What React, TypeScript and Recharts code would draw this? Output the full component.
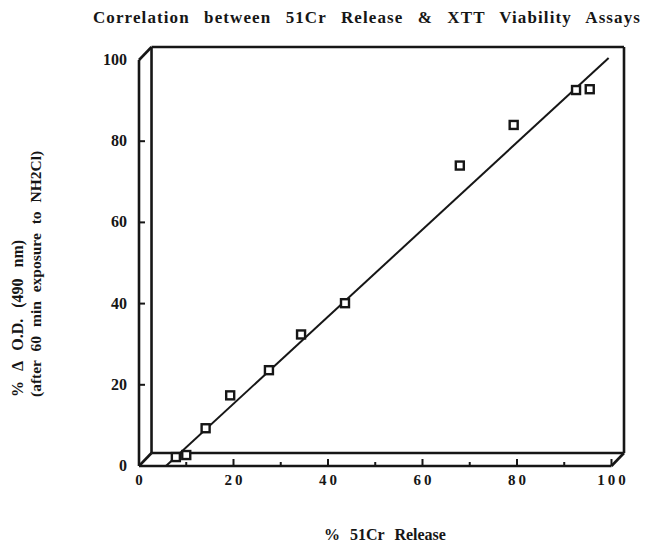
import { ScatterChart, Scatter, XAxis, YAxis, ReferenceLine } from "recharts";

// % 51Cr release (x) vs % change in O.D. at 490 nm (y)
const releasePct = [7.8, 10.0, 14.1, 19.3, 27.5, 34.3, 43.6, 67.9, 79.3, 92.5, 95.4];
const odChangePct = [2.2, 2.7, 9.3, 17.4, 23.6, 32.4, 40.1, 74.0, 84.0, 92.6, 92.8];

// least-squares line end points
const fitRelease = [5.7, 99.4];
const fitOd = [0, 100.5];

const xTicks = [0, 10, 20, 30, 40, 50, 60, 70, 80, 90, 100];
const yTicks = [0, 20, 40, 60, 80, 100];

const DX = 2.65; // depth of the back panel, in axis units
const DY = 3.2;
const INK = "#161616";
const SERIF = '"Liberation Serif", "DejaVu Serif", serif';

const points = releasePct.map((x, i) => ({ x, y: odChangePct[i] }));
const fitPoints = fitRelease.map((x, i) => ({ x, y: fitOd[i] }));

function Square(props: any) {
  const { cx, cy } = props;
  return (
    <rect x={cx - 4} y={cy - 4} width={8} height={8} fill="#fff" stroke={INK} strokeWidth={2.4} />
  );
}

function XTick({ x, y, payload }: any) {
  const v = payload.value;
  const major = v % 20 === 0;
  return (
    <g>
      {v > 0 && (
        <line x1={x} x2={x} y1={y} y2={y - (major ? 7 : 4)} stroke={INK} strokeWidth={2} />
      )}
      {major && (
        <text
          x={x + 1.5}
          y={y + 19}
          textAnchor="middle"
          fontFamily={SERIF}
          fontWeight="bold"
          fontSize={15}
          letterSpacing={3}
          fill={INK}
        >
          {v}
        </text>
      )}
    </g>
  );
}

function YTick({ x, y, payload }: any) {
  const v = payload.value;
  return (
    <g>
      {v > 0 && v < 100 && (
        <line x1={x} x2={x + 6} y1={y} y2={y} stroke={INK} strokeWidth={2} />
      )}
      <text
        x={x - 12}
        y={y + 5}
        textAnchor="end"
        fontFamily={SERIF}
        fontWeight="bold"
        fontSize={16}
        fill={INK}
      >
        {v}
      </text>
    </g>
  );
}

export default function App() {
  const boxEdges = [
    // front axes
    [{ x: 0, y: 0 }, { x: 0, y: 100 }],
    [{ x: 0, y: 0 }, { x: 100, y: 0 }],
    // depth edges
    [{ x: 0, y: 0 }, { x: DX, y: DY }],
    [{ x: 0, y: 100 }, { x: DX, y: 100 + DY }],
    [{ x: 100, y: 0 }, { x: 100 + DX, y: DY }],
    // back panel
    [{ x: DX, y: DY }, { x: DX, y: 100 + DY }],
    [{ x: DX, y: 100 + DY }, { x: 100 + DX, y: 100 + DY }],
    [{ x: 100 + DX, y: DY }, { x: 100 + DX, y: 100 + DY }],
    [{ x: DX, y: DY }, { x: 100 + DX, y: DY }],
  ];

  return (
    <div style={{ position: "absolute", left: 0, top: 0, width: 647, height: 544, background: "#fff" }}>
      <ScatterChart width={647} height={544} margin={{ top: 47, right: 23, bottom: 0, left: 0 }}>
        <XAxis
          type="number"
          dataKey="x"
          domain={[0, 100 + DX]}
          allowDataOverflow
          ticks={xTicks}
          interval={0}
          axisLine={false}
          tickLine={false}
          tickSize={0}
          tickMargin={0}
          height={78}
          tick={<XTick />}
        />
        <YAxis
          type="number"
          dataKey="y"
          domain={[0, 100 + DY]}
          allowDataOverflow
          ticks={yTicks}
          interval={0}
          axisLine={false}
          tickLine={false}
          tickSize={0}
          tickMargin={0}
          width={139}
          tick={<YTick />}
        />
        {boxEdges.map((seg, i) => (
          <ReferenceLine
            key={i}
            segment={seg}
            stroke={INK}
            strokeWidth={2.6}
            ifOverflow="visible"
          />
        ))}
        <Scatter
          data={fitPoints}
          line={{ stroke: INK, strokeWidth: 2 }}
          lineType="joint"
          shape={() => <g />}
          isAnimationActive={false}
        />
        <Scatter data={points} shape={<Square />} isAnimationActive={false} />
      </ScatterChart>

      <svg
        width={647}
        height={544}
        style={{ position: "absolute", left: 0, top: 0, pointerEvents: "none" }}
        fontFamily={SERIF}
        fontWeight="bold"
        fill={INK}
      >
        <text x={367} y={23} textAnchor="middle" fontSize={17} letterSpacing={1.1} wordSpacing={9}>
          Correlation between 51Cr Release &amp; XTT Viability Assays
        </text>
        <text x={385} y={540} textAnchor="middle" fontSize={16} wordSpacing={6}>
          % 51Cr Release
        </text>
        <text x={23} y={397} transform="rotate(-90 23 397)" fontSize={16} wordSpacing={7}>
          % Δ O.D. (490 nm)
        </text>
        <text x={41} y={397} transform="rotate(-90 41 397)" fontSize={15.5} wordSpacing={5}>
          (after 60 min exposure to NH2Cl)
        </text>
      </svg>
    </div>
  );
}
